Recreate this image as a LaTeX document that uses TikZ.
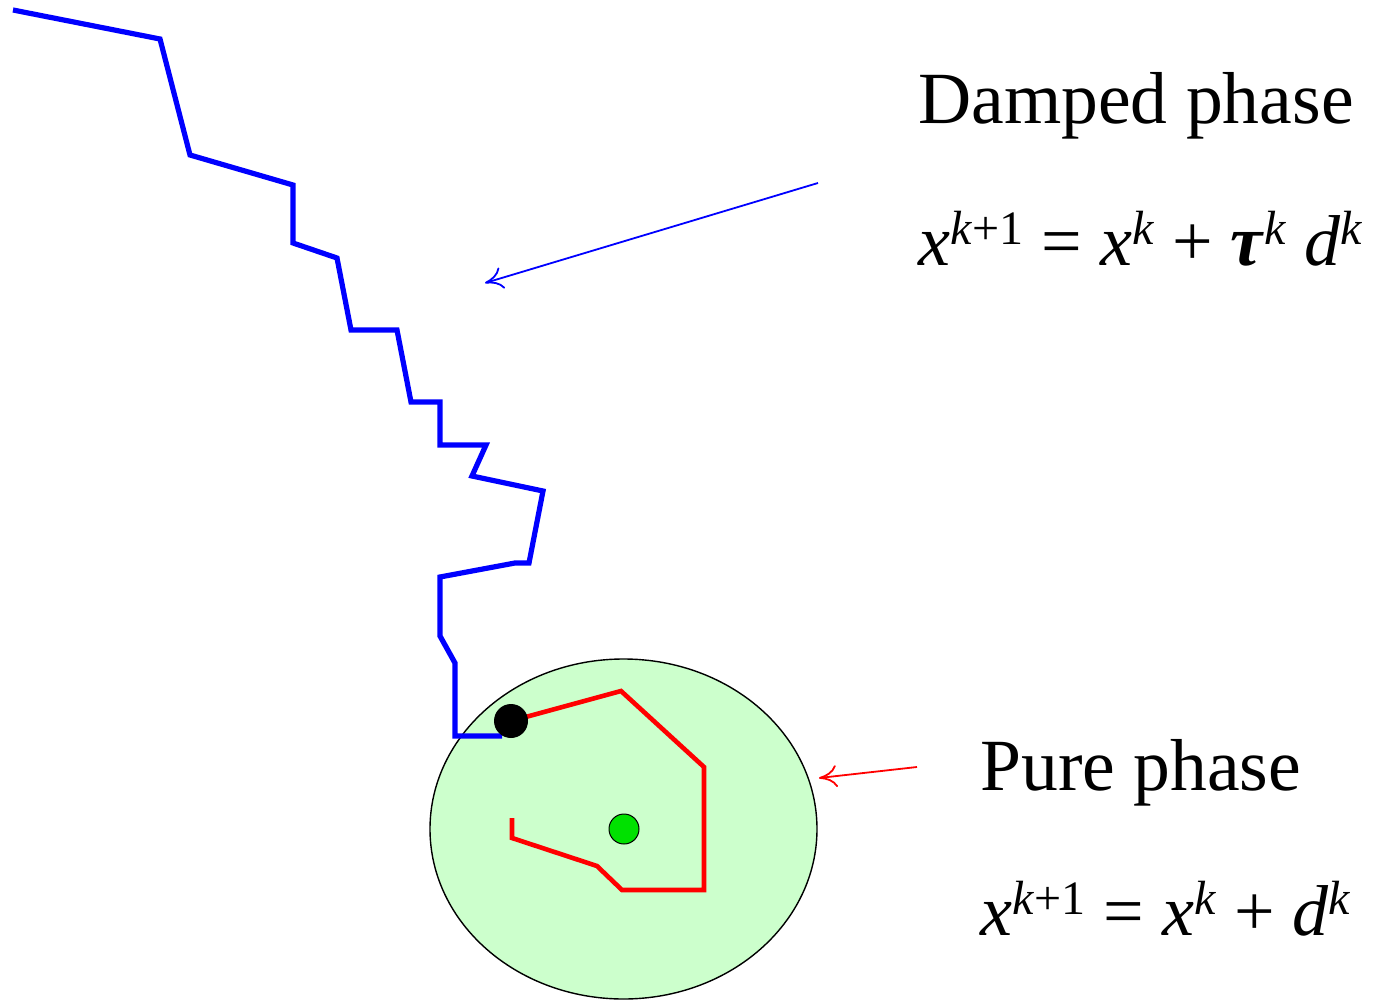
\documentclass[tikz,border=0pt]{standalone}
\usepackage{fontspec}
\setmainfont{Liberation Serif}
\usetikzlibrary{arrows.meta,shapes.geometric}
\definecolor{PathBlue}{RGB}{0,0,255}
\definecolor{PathRed}{RGB}{255,0,0}
\definecolor{RegionGreen}{RGB}{204,255,204}
\definecolor{OptGreen}{RGB}{0,225,0}
\newcommand{\supscr}[1]{\raisebox{10.5pt}{\fontsize{24}{24}\selectfont #1}}

\begin{document}
\begin{tikzpicture}[x=0.5pt,y=-0.5pt,
  phasetext/.style={anchor=base west,inner sep=0pt,font=\fontsize{36.8}{40}\selectfont},
  eqtext/.style={anchor=base west,inner sep=0pt,font=\fontsize{36}{40}\selectfont},
  pointer/.style={-{To[length=9pt,width=11pt]},line width=0.9pt}]
\useasboundingbox (0,0) rectangle (1378,1001);
% region of fast convergence
\node[ellipse,draw=black,line width=0.7pt,fill=RegionGreen,inner sep=0pt,
      minimum width=193.5pt,minimum height=170pt] (region) at (623.5,829) {};
\coordinate (start) at (511,721);
\coordinate (optimum) at (624,829);
% damped iterates
\draw[PathBlue,line width=2.6pt] (13,10) -- (160,39) -- (190,155) -- (293,185)
  -- (293,243) -- (337,258) -- (351,330) -- (397,330) -- (411,402) -- (440,402)
  -- (440,445) -- (486,445) -- (472,476) -- (543,491) -- (529,563) -- (515,563)
  -- (440,577) -- (440,636) -- (455,663) -- (455,736) -- (502,736);
% pure iterates
\draw[PathRed,line width=2.3pt] (start) -- (621,691) -- (704,767) -- (704,890)
  -- (622,890) -- (597,866) -- (512,838) -- (512,818);
\node[circle,fill=black,minimum size=17pt,inner sep=0pt] (startdot) at (start) {};
\node[circle,draw=black,line width=0.5pt,fill=OptGreen,minimum size=15pt,inner sep=0pt] (optdot) at (optimum) {};
% labels
\node[phasetext] (damped) at (918,123) {Damped phase};
\node[eqtext] (dampedeq) at (918,265) {\textit{x}\supscr{\textit{k}+1} = \textit{x}\supscr{\textit{k}} + \textbf{\textit{τ}}\supscr{\textit{k}} \textit{d}\supscr{\textit{k}}};
\node[phasetext] (pure) at (980,790) {Pure phase};
\node[eqtext] (pureeq) at (980,935) {\textit{x}\supscr{\textit{k}+1} = \textit{x}\supscr{\textit{k}} + \textit{d}\supscr{\textit{k}}};
% pointers
\coordinate (dampedtail) at (818,183);
\coordinate (dampedtip) at (485,283);
\coordinate (puretail) at (917,767);
\coordinate (puretip) at (819,778);
\draw[pointer,PathBlue] (dampedtail) -- (dampedtip);
\draw[pointer,PathRed] (puretail) -- (puretip);
\end{tikzpicture}
\end{document}
